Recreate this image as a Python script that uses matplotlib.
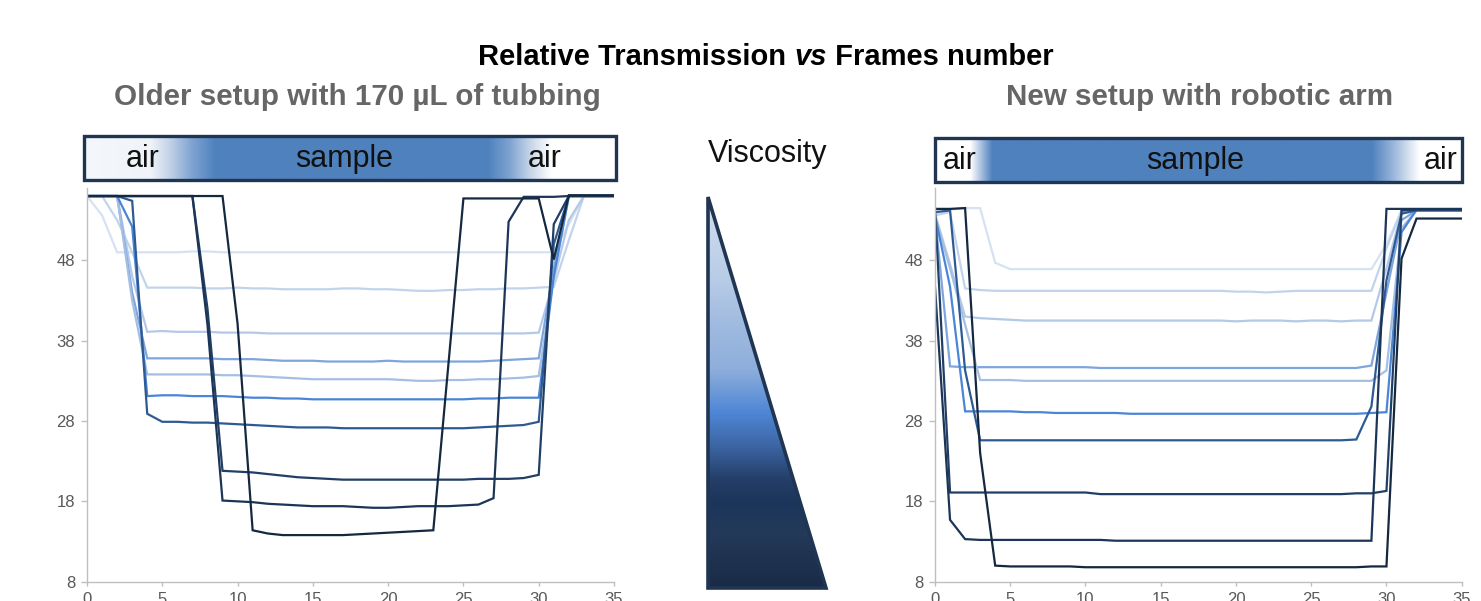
import numpy as np
import matplotlib
matplotlib.use("Agg")
import matplotlib.pyplot as plt
from matplotlib.patches import Polygon, Rectangle
from matplotlib.colors import to_rgb

plt.rcParams['font.family'] = ['Liberation Sans', 'DejaVu Sans']

# ---------------- data ----------------
frames = list(range(36))

# Older setup (left panel), lightest -> darkest (increasing viscosity)
L1 = [56.0, 53.6, 49.0, 49.0, 49.0, 49.0, 49.0, 49.1, 49.1, 49.0, 49.0, 49.0,
      49.0, 49.0, 49.0, 49.0, 49.0, 49.0, 49.0, 49.0, 49.0, 49.0, 49.0, 49.0,
      49.0, 49.0, 49.0, 49.0, 49.0, 49.0, 49.0, 49.0, 52.5, 56.0, 56.0, 56.0]
L2 = [56.0, 56.0, 53.0, 49.0, 44.6, 44.6, 44.6, 44.6, 44.5, 44.5, 44.6, 44.5,
      44.5, 44.4, 44.4, 44.4, 44.4, 44.5, 44.5, 44.4, 44.4, 44.3, 44.2, 44.2,
      44.3, 44.3, 44.4, 44.4, 44.5, 44.5, 44.6, 44.7, 50.5, 56.0, 56.0, 56.0]
L3 = [56.0, 56.0, 56.0, 46.0, 39.1, 39.2, 39.1, 39.1, 39.1, 39.0, 39.0, 39.0,
      38.9, 38.9, 38.9, 38.9, 38.9, 38.9, 38.9, 38.9, 38.9, 38.9, 38.9, 38.9,
      38.9, 38.9, 38.9, 38.9, 38.9, 38.9, 39.0, 45.5, 53.0, 56.0, 56.0, 56.0]
L4 = [56.0, 56.0, 56.0, 44.0, 35.8, 35.8, 35.8, 35.8, 35.8, 35.7, 35.7, 35.7,
      35.6, 35.5, 35.5, 35.5, 35.4, 35.4, 35.4, 35.4, 35.5, 35.4, 35.4, 35.4,
      35.4, 35.4, 35.4, 35.5, 35.6, 35.7, 35.8, 47.0, 56.0, 56.0, 56.0, 56.0]
L5 = [56.0, 56.0, 56.0, 43.0, 33.8, 33.8, 33.8, 33.8, 33.8, 33.7, 33.7, 33.6,
      33.5, 33.4, 33.3, 33.2, 33.2, 33.2, 33.2, 33.2, 33.2, 33.1, 33.0, 33.0,
      33.1, 33.1, 33.2, 33.2, 33.3, 33.4, 33.6, 46.0, 56.0, 56.0, 56.0, 56.0]
L6 = [56.0, 56.0, 56.0, 52.2, 31.1, 31.2, 31.2, 31.1, 31.1, 31.1, 31.0, 30.9,
      30.9, 30.8, 30.8, 30.7, 30.7, 30.7, 30.7, 30.7, 30.7, 30.7, 30.7, 30.7,
      30.7, 30.7, 30.8, 30.8, 30.9, 30.9, 30.9, 46.0, 56.0, 56.0, 56.0, 56.0]
L7 = [56.0, 56.0, 56.0, 55.4, 28.9, 27.9, 27.9, 27.8, 27.8, 27.7, 27.6, 27.5,
      27.4, 27.3, 27.2, 27.2, 27.2, 27.1, 27.1, 27.1, 27.1, 27.1, 27.1, 27.1,
      27.1, 27.1, 27.2, 27.3, 27.4, 27.5, 27.9, 50.0, 56.0, 56.0, 56.0, 56.0]
L8 = [56.0, 56.0, 56.0, 56.0, 56.0, 56.0, 56.0, 56.0, 42.0, 21.8, 21.7, 21.6,
      21.4, 21.2, 21.0, 20.9, 20.8, 20.7, 20.7, 20.7, 20.7, 20.7, 20.7, 20.7,
      20.7, 20.7, 20.8, 20.8, 20.8, 20.9, 21.3, 52.5, 56.0, 56.0, 56.0, 56.0]
L9 = [56.0, 56.0, 56.0, 56.0, 56.0, 56.0, 56.0, 56.0, 40.0, 18.1, 18.0, 17.9,
      17.7, 17.6, 17.5, 17.4, 17.4, 17.4, 17.3, 17.2, 17.2, 17.3, 17.4, 17.4,
      17.4, 17.5, 17.6, 18.4, 52.8, 55.9, 55.9, 55.9, 56.0, 56.0, 56.0, 56.0]
L10 = [56.0, 56.0, 56.0, 56.0, 56.0, 56.0, 56.0, 56.0, 56.0, 56.0, 40.1, 14.4,
       14.0, 13.8, 13.8, 13.8, 13.8, 13.8, 13.9, 14.0, 14.1, 14.2, 14.3, 14.4,
       35.0, 55.7, 55.7, 55.7, 55.7, 55.7, 55.7, 48.1, 56.1, 56.1, 56.1, 56.1]

# New setup with robotic arm (right panel)
R1 = [53.8, 54.3, 54.5, 54.5, 47.7, 46.9, 46.9, 46.9, 46.9, 46.9, 46.9, 46.9,
      46.9, 46.9, 46.9, 46.9, 46.9, 46.9, 46.9, 46.9, 46.9, 46.9, 46.9, 46.9,
      46.9, 46.9, 46.9, 46.9, 46.9, 46.9, 50.0, 54.2, 54.3, 54.3, 54.3, 54.3]
R2 = [53.6, 54.0, 44.5, 44.3, 44.2, 44.2, 44.2, 44.2, 44.2, 44.2, 44.2, 44.2,
      44.2, 44.2, 44.2, 44.2, 44.2, 44.2, 44.2, 44.2, 44.1, 44.1, 44.0, 44.1,
      44.2, 44.2, 44.2, 44.2, 44.2, 44.2, 49.5, 54.2, 54.3, 54.3, 54.3, 54.3]
R3 = [53.8, 47.5, 41.0, 40.8, 40.7, 40.6, 40.5, 40.5, 40.5, 40.5, 40.5, 40.5,
      40.5, 40.5, 40.5, 40.5, 40.5, 40.5, 40.5, 40.5, 40.4, 40.5, 40.5, 40.5,
      40.4, 40.5, 40.5, 40.4, 40.5, 40.5, 47.0, 54.0, 54.3, 54.3, 54.3, 54.3]
R4 = [53.5, 34.8, 34.7, 34.7, 34.7, 34.7, 34.7, 34.7, 34.7, 34.7, 34.7, 34.6,
      34.6, 34.6, 34.6, 34.6, 34.6, 34.6, 34.6, 34.6, 34.6, 34.6, 34.6, 34.6,
      34.6, 34.6, 34.6, 34.6, 34.6, 34.9, 44.0, 53.0, 54.2, 54.2, 54.2, 54.2]
R5 = [53.5, 47.0, 40.0, 33.1, 33.1, 33.1, 33.0, 33.0, 33.0, 33.0, 33.0, 33.0,
      33.0, 33.0, 33.0, 33.0, 33.0, 33.0, 33.0, 33.0, 33.0, 33.0, 33.0, 33.0,
      33.0, 33.0, 33.0, 33.0, 33.0, 33.0, 34.3, 52.0, 54.2, 54.2, 54.2, 54.2]
R6 = [53.6, 44.7, 29.2, 29.2, 29.2, 29.2, 29.1, 29.1, 29.0, 29.0, 29.0, 29.0,
      29.0, 28.9, 28.9, 28.9, 28.9, 28.9, 28.9, 28.9, 28.9, 28.9, 28.9, 28.9,
      28.9, 28.9, 28.9, 28.9, 28.9, 29.0, 29.1, 51.5, 54.3, 54.3, 54.3, 54.3]
R7 = [54.0, 54.2, 34.3, 25.6, 25.6, 25.6, 25.6, 25.6, 25.6, 25.6, 25.6, 25.6,
      25.6, 25.6, 25.6, 25.6, 25.6, 25.6, 25.6, 25.6, 25.6, 25.6, 25.6, 25.6,
      25.6, 25.6, 25.6, 25.6, 25.7, 29.8, 45.5, 53.8, 54.2, 54.2, 54.2, 54.2]
R8 = [54.4, 19.1, 19.1, 19.1, 19.1, 19.1, 19.1, 19.1, 19.1, 19.1, 19.1, 18.9,
      18.9, 18.9, 18.9, 18.9, 18.9, 18.9, 18.9, 18.9, 18.9, 18.9, 18.9, 18.9,
      18.9, 18.9, 18.9, 18.9, 19.0, 19.0, 19.3, 54.2, 54.3, 54.3, 54.3, 54.3]
R9 = [44.7, 15.7, 13.3, 13.2, 13.2, 13.2, 13.2, 13.2, 13.2, 13.2, 13.2, 13.2,
      13.1, 13.1, 13.1, 13.1, 13.1, 13.1, 13.1, 13.1, 13.1, 13.1, 13.1, 13.1,
      13.1, 13.1, 13.1, 13.1, 13.1, 13.1, 54.4, 54.4, 54.4, 54.4, 54.4, 54.4]
R10 = [54.4, 54.4, 54.5, 24.0, 10.0, 9.9, 9.9, 9.9, 9.9, 9.9, 9.8, 9.8,
       9.8, 9.8, 9.8, 9.8, 9.8, 9.8, 9.8, 9.8, 9.8, 9.8, 9.8, 9.8,
       9.8, 9.8, 9.8, 9.8, 9.8, 9.9, 9.9, 48.2, 53.2, 53.2, 53.2, 53.2]

left_series = [L1, L2, L3, L4, L5, L6, L7, L8, L9, L10]
right_series = [R1, R2, R3, R4, R5, R6, R7, R8, R9, R10]
series_colors = ['#d6e2f2', '#c2d4ec', '#b3c9e7', '#7fa6dc', '#a5bfe3',
                 '#4a85d6', '#2e5a92', '#213f66', '#1c3557', '#142840']

x_ticks = [0, 5, 10, 15, 20, 25, 30, 35]
y_ticks = [8, 18, 28, 38, 48]

title_parts = ["Relative Transmission ", "vs", " Frames number"]
left_title = "Older setup with 170 µL of tubbing"
right_title = "New setup with robotic arm"

# ---------------- figure ----------------
W, H = 1481, 601
fig = plt.figure(figsize=(W / 100, H / 100), dpi=100)
fig.patch.set_facecolor('white')


def px_axes(x0, y_top, x1, y_bot):
    return fig.add_axes([x0 / W, (H - y_bot) / H, (x1 - x0) / W, (y_bot - y_top) / H])


def style_axes(ax):
    for s in ['top', 'right']:
        ax.spines[s].set_visible(False)
    for s in ['left', 'bottom']:
        ax.spines[s].set_color('#bfbfbf')
        ax.spines[s].set_linewidth(1.0)
    ax.set_xlim(0, 35)
    ax.set_ylim(8, 57)
    ax.set_xticks(x_ticks)
    ax.set_yticks(y_ticks)
    ax.tick_params(axis='y', length=4, width=1, color='#bfbfbf', labelsize=12,
                   labelcolor='#595959', pad=4.5)
    ax.tick_params(axis='x', length=3, width=1, color='#bfbfbf', labelsize=12,
                   labelcolor='#595959', pad=4.3)
    ax.set_facecolor('none')


axL = px_axes(87, 188, 614, 581.7)
axR = px_axes(935, 188, 1461.7, 581.7)
for ax, ser in ((axL, left_series), (axR, right_series)):
    style_axes(ax)
    for vals, c in zip(ser, series_colors):
        ax.plot(frames, vals, color=c, lw=1.6, solid_joinstyle='miter')

# ---------------- overlay (pixel coords) ----------------
ov = fig.add_axes([0, 0, 1, 1], zorder=5)
ov.set_xlim(0, W)
ov.set_ylim(H, 0)
ov.axis('off')
ov.patch.set_alpha(0)

navy = '#1f3552'


def gradient_row(x0, x1, stops):
    xs = np.arange(x0, x1 + 1)
    pos = [s[0] for s in stops]
    cols = np.array([to_rgb(s[1]) for s in stops])
    img = np.stack([np.interp(xs, pos, cols[:, k]) for k in range(3)], axis=-1)
    return img[np.newaxis, :, :]


def band(x0, x1, y0, y1, stops, texts):
    img = gradient_row(x0, x1, stops)
    ov.imshow(img, extent=(x0, x1, y1, y0), origin='upper', aspect='auto',
              interpolation='bilinear', zorder=1)
    ov.add_patch(Rectangle((x0, y0), x1 - x0, y1 - y0, fill=False,
                           edgecolor=navy, lw=2.4, zorder=3))
    for tx, cx in texts:
        ov.text(cx, (y0 + y1) / 2 + 1, tx, ha='center', va='center',
                fontsize=22, color='#111111', zorder=4)


blue = '#4f81bd'
band(84, 616, 136, 180,
     [(84, '#f4f7fb'), (150, '#f0f4f9'), (168, '#c6d5e9'), (192, '#7ea3d1'),
      (215, blue), (488, blue), (510, '#7ea3d1'), (532, '#cbd8ea'), (552, '#ffffff'),
      (616, '#ffffff')],
     [("air", 143), ("sample", 344), ("air", 545)])
band(935, 1462, 138, 182,
     [(935, '#ffffff'), (970, '#ffffff'), (982, '#9fb9dc'), (992, blue),
      (1372, blue), (1395, '#9fb9dc'), (1420, '#ffffff'), (1462, '#ffffff')],
     [("air", 960), ("sample", 1195), ("air", 1441)])

# Viscosity triangle
ov.text(768, 154, "Viscosity", ha='center', va='center', fontsize=22, color='#111111')
tx0, ty0, tx1, ty1 = 708, 197, 826, 588
tstops = [(0.00, '#d2deef'), (0.20, '#b9cde7'), (0.34, '#9db9df'), (0.44, '#8eaedb'),
          (0.55, '#4f87d6'), (0.64, '#3b64a2'), (0.72, '#253f69'), (0.78, '#1b355b'),
          (0.86, '#243a59'), (1.00, '#192b46')]
ys = np.linspace(0, 1, 300)
tp = [s[0] for s in tstops]
tc = np.array([to_rgb(s[1]) for s in tstops])
timg = np.stack([np.interp(ys, tp, tc[:, k]) for k in range(3)], axis=-1)[:, np.newaxis, :]
im = ov.imshow(timg, extent=(tx0, tx1, ty1, ty0), origin='upper', aspect='auto',
               interpolation='bilinear', zorder=1)
tri = Polygon([(tx0, ty0), (tx0, ty1), (tx1, ty1)], closed=True, fill=False,
              edgecolor=navy, lw=2.6, joinstyle='miter', zorder=3)
ov.add_patch(tri)
im.set_clip_path(Polygon([(tx0, ty0), (tx0, ty1), (tx1, ty1)], closed=True,
                         transform=ov.transData))

# Titles
ov.text(357, 105, left_title, ha='center', va='baseline', fontsize=21.3,
        fontweight='bold', color='#666666')
ov.text(1200, 105, right_title, ha='center', va='baseline', fontsize=21.3,
        fontweight='bold', color='#666666')

renderer = fig.canvas.get_renderer()
styles = ['normal', 'italic', 'normal']
objs = []
for part, st in zip(title_parts, styles):
    t = ov.text(0, 65, part, ha='left', va='baseline', fontsize=21,
                fontweight='bold', fontstyle=st, color='black')
    objs.append(t)
widths = [t.get_window_extent(renderer=renderer).width for t in objs]
x = 766 - sum(widths) / 2
for t, w in zip(objs, widths):
    t.set_x(x)
    x += w

fig.savefig('out.png', dpi=100, facecolor='white')
